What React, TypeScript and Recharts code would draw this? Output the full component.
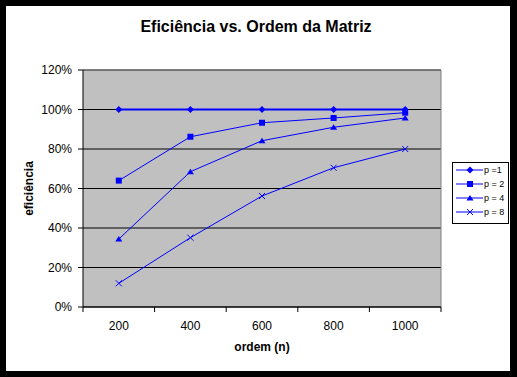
import React from "react";
import { LineChart, Line, XAxis, YAxis, CartesianGrid, Legend, ReferenceLine, Label } from "recharts";

const FONT = '"Liberation Sans", Arial, sans-serif';
const BLUE = "#0000FF";

// matrix order (n) and efficiency per processor count
const ordem = [200, 400, 600, 800, 1000];
const p1 = [1.0, 1.0, 1.0, 1.0, 1.0];
const p2 = [0.64, 0.862, 0.933, 0.957, 0.984];
const p4 = [0.344, 0.685, 0.842, 0.91, 0.957];
const p8 = [0.12, 0.351, 0.562, 0.705, 0.8];
const yTicks = [0, 0.2, 0.4, 0.6, 0.8, 1.0, 1.2];
const xBounds = [100, 300, 500, 700, 900, 1100];
const seriesNames = ["p =1", "p = 2", "p = 4", "p = 8"];
const seriesKeys = ["p1", "p2", "p4", "p8"];
const seriesWidths = [2, 1, 1, 1];

const data = ordem.map((n, i) => ({ n, p1: p1[i], p2: p2[i], p4: p4[i], p8: p8[i] }));

const Marker = ({ kind, cx, cy }: { kind: string; cx: number; cy: number }) => {
  if (kind === "p1") {
    return <path d={`M${cx},${cy - 3.5}L${cx + 3.5},${cy}L${cx},${cy + 3.5}L${cx - 3.5},${cy}Z`} fill={BLUE} />;
  }
  if (kind === "p2") {
    return <rect x={cx - 3} y={cy - 3} width={6} height={6} fill={BLUE} />;
  }
  if (kind === "p4") {
    return <path d={`M${cx},${cy - 3}L${cx + 3.5},${cy + 2.5}L${cx - 3.5},${cy + 2.5}Z`} fill={BLUE} />;
  }
  return (
    <path
      d={`M${cx - 3},${cy - 3}L${cx + 3},${cy + 3}M${cx + 3},${cy - 3}L${cx - 3},${cy + 3}`}
      stroke={BLUE}
      strokeWidth={1}
      fill="none"
    />
  );
};

const makeDot = (kind: string) => (props: any) => (
  <g key={`${kind}-${props.index}`}>
    <Marker kind={kind} cx={props.cx} cy={props.cy} />
  </g>
);

const renderLegend = () => (
  <div
    style={{
      width: 55,
      height: 60,
      border: "1px solid black",
      background: "white",
      fontFamily: FONT,
      fontSize: 9,
      color: "black",
    }}
  >
    {seriesKeys.map((k, i) => (
      <div key={k} style={{ display: "flex", alignItems: "center", height: 14 }}>
        <svg width={30} height={14} style={{ display: "block" }}>
          <line x1={3} x2={30} y1={7} y2={7} stroke={BLUE} strokeWidth={1} />
          <Marker kind={k} cx={17} cy={7} />
        </svg>
        <span style={{ marginLeft: 1, whiteSpace: "pre" }}>{seriesNames[i]}</span>
      </div>
    ))}
  </div>
);

const YLabel = (props: any) => {
  const { x, y, height } = props.viewBox;
  const cx = x + 22.5;
  const cy = y + height / 2;
  return (
    <text
      x={cx}
      y={cy}
      transform={`rotate(-90, ${cx}, ${cy})`}
      textAnchor="middle"
      dominantBaseline="central"
      fontFamily={FONT}
      fontSize={12}
      fontWeight="bold"
      fill="black"
    >
      eficiência
    </text>
  );
};

const App: React.FC = () => {
  return (
    <div style={{ position: "absolute", left: 0, top: 0, width: 517, height: 377, background: "black" }}>
      <div style={{ position: "absolute", left: 6, top: 6, width: 504, height: 365, background: "white" }}>
        <div
          style={{
            position: "absolute",
            left: 0,
            top: 11,
            width: 500,
            textAlign: "center",
            fontFamily: FONT,
            fontWeight: "bold",
            fontSize: 16,
            lineHeight: "20px",
            color: "black",
            zIndex: 1,
          }}
        >
          Eficiência vs. Ordem da Matriz
        </div>
        <LineChart width={504} height={365} data={data} margin={{ top: 64, right: 69, bottom: 0, left: 0 }}>
          <CartesianGrid vertical={false} stroke="black" fill="#C0C0C0" xAxisId={1} />
          <XAxis
            xAxisId={0}
            dataKey="n"
            type="number"
            domain={[100, 1100]}
            ticks={xBounds}
            tick={() => <g />}
            tickSize={5}
            height={1}
            axisLine={{ stroke: "black" }}
            tickLine={{ stroke: "black" }}
          />
          <XAxis
            xAxisId={1}
            dataKey="n"
            type="number"
            domain={[100, 1100]}
            ticks={ordem}
            interval={0}
            axisLine={false}
            tickLine={false}
            tickSize={5}
            tickMargin={8}
            height={63}
            tick={{ fill: "black", fontSize: 12, fontFamily: FONT }}
          >
            <Label
              value="ordem (n)"
              position="insideBottom"
              offset={20}
              style={{ fill: "black", fontSize: 12, fontWeight: "bold", fontFamily: FONT }}
            />
          </XAxis>
          <YAxis
            domain={[0, 1.2]}
            ticks={yTicks}
            interval={0}
            width={77}
            tickSize={5}
            tickMargin={6}
            tickFormatter={(v: number) => `${Math.round(v * 100)}%`}
            axisLine={{ stroke: "black" }}
            tickLine={{ stroke: "black" }}
            tick={{ fill: "black", fontSize: 12, fontFamily: FONT }}
          >
            <Label content={YLabel} />
          </YAxis>
          <ReferenceLine y={1.2} xAxisId={1} stroke="#808080" />
          <ReferenceLine x={1100} xAxisId={1} stroke="#808080" />
          {seriesKeys.map((k, i) => (
            <Line
              key={k}
              xAxisId={1}
              dataKey={k}
              name={seriesNames[i]}
              stroke={BLUE}
              strokeWidth={seriesWidths[i]}
              dot={makeDot(k)}
              activeDot={false}
              isAnimationActive={false}
            />
          ))}
          <Legend
            layout="horizontal"
            verticalAlign="middle"
            align="center"
            content={renderLegend}
            wrapperStyle={{ left: 446, top: 156, width: 57 }}
          />
        </LineChart>
      </div>
    </div>
  );
};

export default App;
